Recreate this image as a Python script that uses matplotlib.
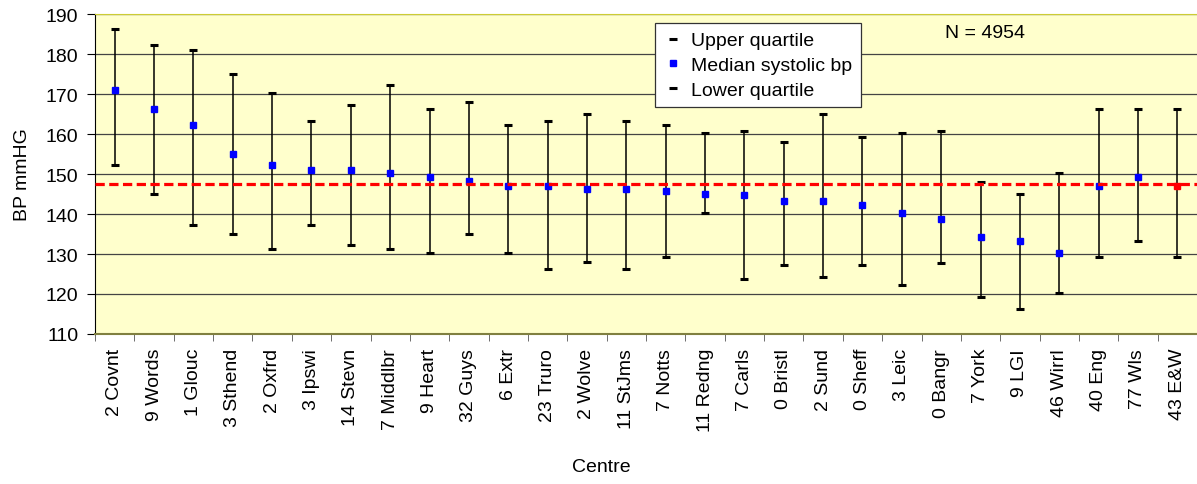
import numpy as np
import matplotlib
matplotlib.use('Agg')
from matplotlib import pyplot as plt
from matplotlib.lines import Line2D

plt.rcParams['font.family'] = ['Liberation Sans', 'DejaVu Sans']

centres = ['2 Covnt', '9 Words', '1 Glouc', '3 Sthend', '2 Oxfrd', '3 Ipswi',
           '14 Stevn', '7 Middlbr', '9 Heart', '32 Guys', '6 Extr', '23 Truro',
           '2 Wolve', '11 StJms', '7 Notts', '11 Redng', '7 Carls', '0 Bristl',
           '2 Sund', '0 Sheff', '3 Leic', '0 Bangr', '7 York', '9 LGI',
           '46 Wirrl', '40 Eng', '77 Wls', '43 E&W']
upper = [186.2, 182.3, 181.0, 175.0, 170.2, 163.2, 167.2, 172.3, 166.3, 168.1,
         162.3, 163.2, 165.0, 163.2, 162.3, 160.2, 160.8, 158.1, 165.0, 159.3,
         160.2, 160.8, 148.1, 145.1, 150.2, 166.2, 166.2, 166.2]
median = [171.1, 166.2, 162.2, 155.0, 152.3, 151.1, 151.1, 150.2, 149.2, 148.2,
          147.1, 147.1, 146.2, 146.2, 145.7, 145.1, 144.7, 143.2, 143.2, 142.3,
          140.2, 138.7, 134.2, 133.2, 130.2, 147.1, 149.2, 147.1]
lower = [152.3, 145.0, 137.2, 135.0, 131.2, 137.2, 132.3, 131.2, 130.2, 135.0,
         130.2, 126.2, 128.1, 126.2, 129.2, 140.2, 123.8, 127.2, 124.2, 127.2,
         122.3, 127.8, 119.3, 116.2, 120.2, 129.2, 133.2, 129.2]
overall_median = 147.5
n_total = 4954

FS = 14

x = np.arange(len(centres))
med = np.array(median)
yerr = [med - np.array(lower), np.array(upper) - med]

fig = plt.figure(figsize=(11.97, 4.85), dpi=100)
ax = fig.add_axes([95 / 1197, 150 / 485, 1102 / 1197, 320 / 485])
ax.set_facecolor('#FFFFCC')

ax.errorbar(x, med, yerr=yerr, fmt='none', ecolor='black', elinewidth=1.1,
            capsize=2.6, capthick=2.2, zorder=3)
ax.plot(x[:-1], med[:-1], 's', color='#0000FF', markersize=3.8, zorder=4)
ax.plot(x[-1:], med[-1:], 's', color='#FF0000', markersize=3.8, zorder=4)
ax.axhline(overall_median, color='#FF0000', lw=2.3, ls=(0, (2.9, 1.4)), zorder=5)

ax.set_xlim(-0.5, len(centres) - 0.5)
ax.set_ylim(110, 190)
ax.set_yticks(np.arange(110, 191, 10))
ax.yaxis.grid(True, color='#444444', lw=0.9)
ax.set_axisbelow(True)

ax.set_xticks(x)
ax.set_xticklabels(centres, rotation=90, fontsize=FS)
ax.set_xticks(np.arange(-0.5, len(centres), 1), minor=True)
ax.tick_params(axis='x', which='major', length=0, pad=10)
ax.tick_params(axis='x', which='minor', length=5, direction='out', color='#555555')
ax.tick_params(axis='y', labelsize=FS, length=6, direction='out', pad=6)

ax.spines['left'].set_color('black')
ax.spines['bottom'].set_color('#808040')
ax.spines['top'].set_color('#CCCC33')
ax.spines['right'].set_visible(False)
ax.spines['bottom'].set_linewidth(1.5)

ax.set_ylabel('BP mmHG', fontsize=FS)
ax.yaxis.set_label_coords(-64 / 1102, 0.5)
fig.text(601 / 1197, 17 / 485, 'Centre', ha='center', va='center', fontsize=FS)

handles = [Line2D([], [], ls='none', marker='_', color='black', markersize=6, mew=2.2),
           Line2D([], [], ls='none', marker='s', color='#0000FF', markersize=3.8),
           Line2D([], [], ls='none', marker='_', color='black', markersize=6, mew=2.2)]
leg = ax.legend(handles, ['Upper quartile', 'Median systolic bp', 'Lower quartile'],
                loc='upper left', bbox_to_anchor=(560 / 1102, 1 - 9 / 320),
                borderaxespad=0, fontsize=FS, frameon=True, fancybox=False,
                framealpha=1, edgecolor='#333333', handlelength=1.0,
                handletextpad=0.4, borderpad=0.45, labelspacing=0.36)
leg.get_frame().set_linewidth(0.9)

ax.text(890 / 1102, 1 - 18 / 320, 'N = %d' % n_total, transform=ax.transAxes,
        ha='center', va='center', fontsize=FS)

fig.savefig('out.png', dpi=100)
